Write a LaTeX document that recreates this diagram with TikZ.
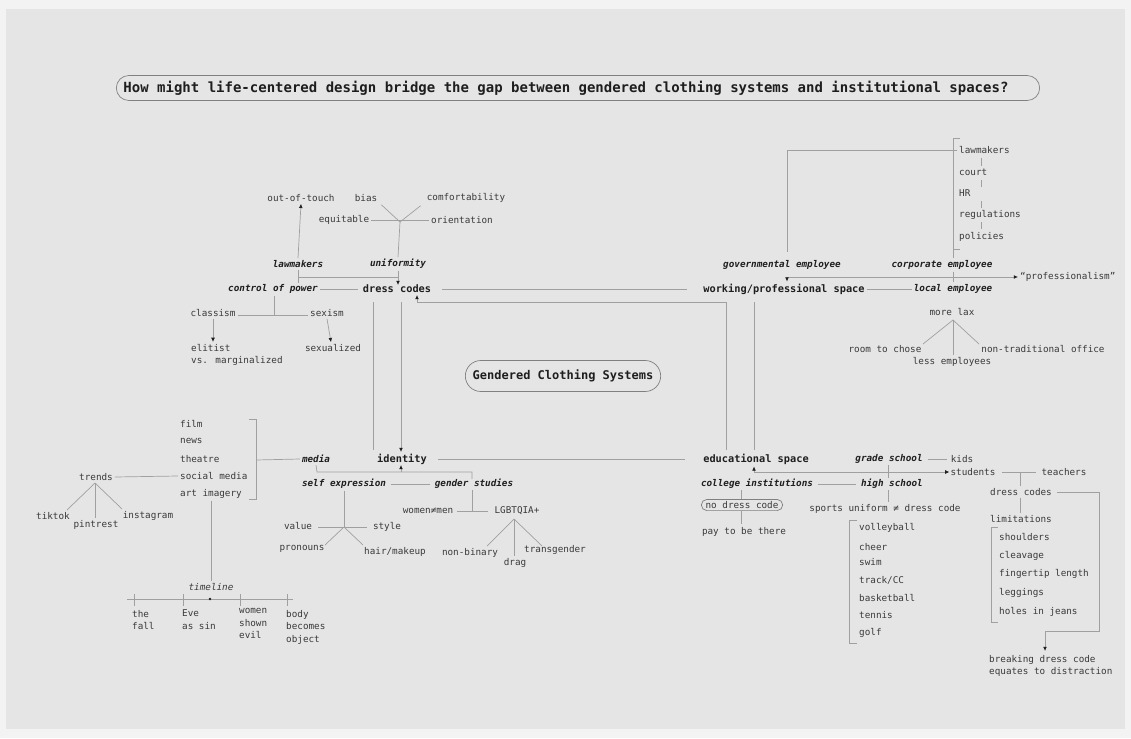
\documentclass[tikz,border=0pt]{standalone}
\usepackage{fontspec}
\setmainfont{DejaVu Sans Mono}
\usetikzlibrary{calc,arrows.meta,shapes.misc}
\definecolor{bgc}{HTML}{E5E5E5}
\definecolor{outc}{HTML}{F3F3F3}
\definecolor{lc}{HTML}{A0A0A0}
\definecolor{txc}{HTML}{3A3A3A}
\definecolor{dkc}{HTML}{1E1E1E}
\tikzset{
  tx/.style={font=\fontsize{9.3}{11}\selectfont, text=txc, inner sep=2pt},
  bo/.style={font=\fontsize{10.3}{12}\selectfont\bfseries, text=dkc, inner sep=2pt},
  ca/.style={font=\fontsize{9.3}{11}\selectfont\bfseries\itshape, text=dkc, inner sep=2pt},
  ml/.style={tx, align=left, anchor=north west, font=\fontsize{9.3}{12.6}\selectfont},
  ln/.style={draw=lc, line width=0.7pt},
  tipk/.tip={Latex[length=4.2pt,width=3.8pt,color=dkc]},
  ar/.style={ln, -tipk},
  pill/.style={draw=lc!80!black, line width=0.7pt, rounded rectangle},
}
\begin{document}
\begin{tikzpicture}[x=1pt,y=-1pt]
\useasboundingbox (0,0) rectangle (1131,738);
\fill[outc] (0,0) rectangle (1131,738);
\fill[bgc] (6,9) rectangle (1125,729);

% title
\node[pill, minimum width=930pt, minimum height=25pt] (titlebox) at (578,88) {};
\node[font=\fontsize{14}{16}\selectfont\bfseries, text=dkc, inner sep=0pt] (title) at (566,88)
  {How might life-centered design bridge the gap between gendered clothing systems and institutional spaces?};

% center
\node[pill, minimum width=202pt, minimum height=31pt, font=\fontsize{12}{14}\selectfont\bfseries, text=dkc] (gcs) at (563,376) {Gendered Clothing Systems};

% ---------- top left ----------
\node[tx] (oot) at (301,198) {out-of-touch};
\node[tx] (bias) at (366,198) {bias};
\node[tx] (comf) at (466,198) {comfortability};
\node[tx] (equi) at (344,220) {equitable};
\node[tx] (orie) at (462,220) {orientation};
\coordinate (yj) at (400,222);
\node[ca] (law) at (298,264) {lawmakers};
\node[ca] (uni) at (398,264) {uniformity};
\node[bo] (dc) at (397,289) {dress codes};
\node[ca] (cop) at (273,289) {control of power};
\node[tx] (clas) at (213,313) {classism};
\node[tx] (sexi) at (327,313) {sexism};
\node[ml, anchor=west] (elit) at (189,355) {elitist\\vs. marginalized};
\node[tx] (sexu) at (333,348) {sexualized};

\draw[ln] ($(bias.south east)+(2,1)$) -- (yj);
\draw[ln] ($(comf.south west)+(-4,1)$) -- (yj);
\draw[ln] (equi.east) -- (orie.west);
\draw[ln] (yj) -- (uni.north);
\draw[ar] (law.north) -- (oot.south);
\coordinate (lj) at (298,277);
\draw[ln] (law.south) -- (298,283);
\draw[ln] (lj) -- (398,277);
\draw[ar] (uni.south -| 398,0) -- (398,285);
\draw[ln] (cop.east) -- ($(dc.west)+(-3,0)$);
\coordinate (cj) at (274,315);
\draw[ln] (cop.south -| cj) -- (cj);
\draw[ln] (clas.east |- cj) -- (sexi.west |- cj);
\draw[ar] (clas.south) -- (clas.south |- elit.north);
\draw[ar] (sexi.south) -- ($(sexu.north)+(-2,0)$);

% ---------- top right ----------
\node[ca] (gov) at (782,265) {governmental employee};
\node[ca] (corp) at (942,265) {corporate employee};
\node[bo] (wps) at (784,289) {working/professional space};
\node[ca] (loc) at (953,289) {local employee};
\node[tx, anchor=west] (prof) at (1018,277) {“professionalism”};
\node[tx, anchor=west] (rlaw) at (957,150) {lawmakers};
\node[tx, anchor=west] (court) at (957,172) {court};
\node[tx, anchor=west] (hr) at (957,193) {HR};
\node[tx, anchor=west] (regu) at (957,215) {regulations};
\node[tx, anchor=west] (poli) at (957,237) {policies};
\draw[ln] (960,138) -- (953,138) -- (953,249) -- (960,249);
\draw[ln] (981,158) -- (981,166);
\draw[ln] (981,180) -- (981,187);
\draw[ln] (981,201) -- (981,208);
\draw[ln] (981,222) -- (981,229);
\draw[ln] (rlaw.west) -- (787,150) -- (787,252);
\coordinate (pj) at (787,277);
\draw[ar] (pj) -- (prof.west);
\draw[ar] (pj) -- (wps.north -| pj);
\draw[ln] (953,249) -- (corp.north -| 953,0);
\draw[ln] (corp.south -| 953,0) -- (loc.north);
\draw[ln] (wps.east) -- (loc.west);
\node[tx] (lax) at (952,312) {more lax};
\coordinate (mj) at (953,320);
\node[tx] (room) at (885,349) {room to chose};
\node[tx] (less) at (952,362) {less employees};
\node[tx] (ntrad) at (1043,349) {non-traditional office};
\draw[ln] (mj) -- (923,344);
\draw[ln] (mj) -- (less.north -| mj);
\draw[ln] (mj) -- (979,344);

% ---------- middle connections ----------
\node[bo] (id) at (402,459) {identity};
\node[bo] (edu) at (756,459) {educational space};
\draw[ln] (dc.east) ++(9,0) -- ($(wps.west)+(-14,0)$);
\draw[ln] (373,302) -- (373,450);
\draw[ar] (401,302) -- (401,452);
\draw[ln] (id.east) ++(9,0) -- ($(edu.west)+(-16,0)$);
\draw[ar] (726,450) -- (726,302) -- (417,302) -- (417,295);
\draw[ln] (754,302) -- (754,450);

% ---------- left ----------
\node[ca] (media) at (316,459) {media};
\node[tx, anchor=west] (film) at (178,424) {film};
\node[tx, anchor=west] (news) at (178,441) {news};
\node[tx, anchor=west] (thea) at (178,459) {theatre};
\node[tx, anchor=west] (soc) at (178,476) {social media};
\node[tx, anchor=west] (art) at (178,494) {art imagery};
\draw[ln] (249,419) -- (256,419) -- (256,499) -- (249,499);
\draw[ln] (256,460) -- (media.west);
\node[tx] (trends) at (96,477) {trends};
\draw[ln] (trends.east) -- (soc.west);
\coordinate (tj) at (95,483);
\node[tx] (tik) at (53,516) {tiktok};
\node[tx] (pin) at (96,525) {pintrest};
\node[tx] (insta) at (148,516) {instagram};
\draw[ln] (tj) -- (67,510);
\draw[ln] (tj) -- (95,518);
\draw[ln] (tj) -- (122,509);
\node[tx, font=\fontsize{9.3}{11}\selectfont\itshape] (tl) at (211,587) {timeline};
\draw[ln] (211,501) -- (tl.north -| 211,0);
\draw[ln] (127,599) -- (293,599);
\foreach \xx in {134,183,240,287} \draw[ln] (\xx,594) -- (\xx,606);
\fill[dkc] (210,599) circle (1.4pt);
\node[ml] (fall) at (130,608) {the\\fall};
\node[ml] (eve) at (180,608) {Eve\\as sin};
\node[ml] (wse) at (237,606) {women\\shown\\evil};
\node[ml] (bbo) at (284,608) {body\\becomes\\object};

\coordinate (mjl) at (317,472);
\coordinate (gj) at (472,472);
\draw[ln] (media.south) -- (mjl) -- (gj) -- (472,479);
\draw[ar] (401,472) -- (401,465);
\node[ca] (se) at (344,484) {self expression};
\node[ca] (gs) at (474,484) {gender studies};
\draw[ln] (se.east) ++(3,0) -- ($(gs.west)+(-3,0)$);
\coordinate (sj) at (344,527);
\draw[ln] (se.south) -- (sj);
\node[tx] (val) at (298,526) {value};
\node[tx] (sty) at (387,527) {style};
\node[tx] (pron) at (302,549) {pronouns};
\node[tx] (hair) at (395,552) {hair/makeup};
\draw[ln] ($(val.east)+(4,1)$) -- ($(sty.west)+(-4,0)$);
\draw[ln] (sj) -- (325,545);
\draw[ln] (sj) -- (363,545);
\node[tx] (wm) at (428,511) {women≠men};
\node[tx] (lgbt) at (517,511) {LGBTQIA+};
\draw[ln] ($(wm.east)+(2,0)$) -- ($(lgbt.west)+(-4,0)$);
\draw[ln] (472,490) -- (472,511);
\coordinate (lgj) at (514,519);
\node[tx] (nb) at (470,553) {non-binary};
\node[tx] (drag) at (515,563) {drag};
\node[tx] (trans) at (555,550) {transgender};
\draw[ln] (lgj) -- (487,546);
\draw[ln] (lgj) -- (514,556);
\draw[ln] (lgj) -- (542,546);

% ---------- right bottom ----------
\node[ca] (gsch) at (889,459) {grade school};
\node[tx] (kids) at (962,459) {kids};
\draw[ln] ($(gsch.east)+(3,0)$) -- ($(kids.west)+(-2,0)$);
\node[tx] (stud) at (973,472) {students};
\draw[ln, tipk-tipk] (edu.south -| 754,0) |- ($(stud.west)+(1,0)$);
\node[tx] (teach) at (1064,472) {teachers};
\draw[ln] ($(stud.east)+(4,0)$) -- ($(teach.west)+(-3,0)$);
\node[tx] (dc2) at (1021,492) {dress codes};
\node[tx] (lim) at (1021,519) {limitations};
\draw[ln] (1020,472) -- (dc2.north -| 1020,0);
\draw[ln] (dc2.south -| 1020,0) -- (lim.north -| 1020,0);
\draw[ln] (998,527) -- (991,527) -- (991,622) -- (998,622);
\node[tx, anchor=west] (shou) at (997,537) {shoulders};
\node[tx, anchor=west] (clea) at (997,556) {cleavage};
\node[tx, anchor=west] (fing) at (997,574) {fingertip length};
\node[tx, anchor=west] (legg) at (997,593) {leggings};
\node[tx, anchor=west] (hole) at (997,612) {holes in jeans};
\node[ml] (brk) at (987,653) {breaking dress code\\equates to distraction};
\draw[ar] ($(dc2.east)+(3,0)$) -- (1099,492) -- (1099,631) -- (1045,631) -- (1045,651);

\node[ca] (coll) at (757,484) {college institutions};
\node[ca] (high) at (892,484) {high school};
\draw[ln] ($(coll.east)+(3,0)$) -- ($(high.west)+(-3,0)$);
\draw[ln] (888,465) -- (888,478);
\node[tx] (sport) at (885,509) {sports uniform ≠ dress code};
\draw[ln] (888,490) -- (888,502);
\node[pill, tx, minimum height=11pt, inner xsep=3pt] (ndc) at (742,505) {no dress code};
\draw[ln] (741,490) -- (ndc.north -| 741,0);
\node[tx] (pay) at (744,532) {pay to be there};
\draw[ln] (ndc.south -| 741,0) -- (741,524);
\draw[ln] (857,520) -- (849,520) -- (849,643) -- (857,643);
\node[tx, anchor=west] (voll) at (857,528) {volleyball};
\node[tx, anchor=west] (chee) at (857,547) {cheer};
\node[tx, anchor=west] (swim) at (857,562) {swim};
\node[tx, anchor=west] (trac) at (857,580) {track/CC};
\node[tx, anchor=west] (bask) at (857,598) {basketball};
\node[tx, anchor=west] (tenn) at (857,615) {tennis};
\node[tx, anchor=west] (golf) at (857,633) {golf};
\end{tikzpicture}
\end{document}
